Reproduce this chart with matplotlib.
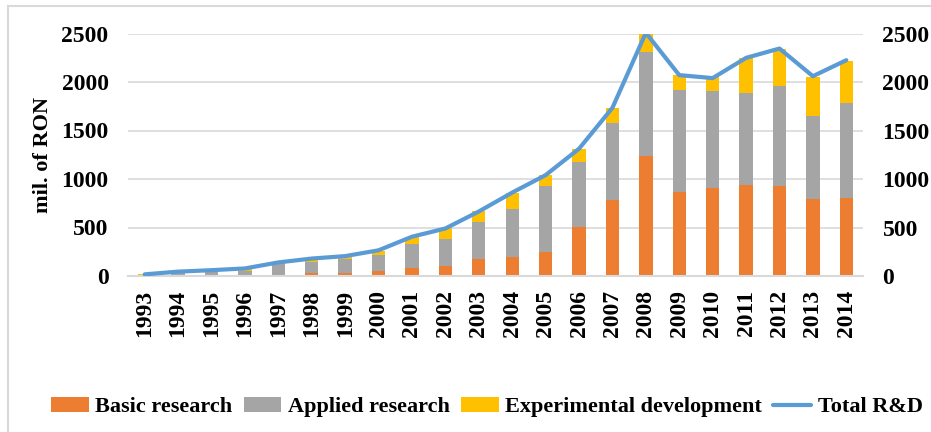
import numpy as np
import matplotlib
matplotlib.use("Agg")
from matplotlib import pyplot as plt
from matplotlib.lines import Line2D

# R&D expenditure, mil. of RON
years = [str(y) for y in range(1993, 2015)]
basic = [2, 3, 5, 10, 12, 35, 35, 48, 83, 104, 172, 196, 251, 505, 780, 1236, 869, 910, 937, 931, 790, 800]
applied = [8, 30, 45, 45, 112, 113, 141, 166, 248, 276, 381, 494, 680, 673, 796, 1072, 1047, 996, 948, 1023, 858, 986]
experimental = [8, 7, 8, 15, 11, 17, 24, 46, 69, 110, 117, 168, 106, 134, 158, 199, 155, 141, 364, 391, 399, 432]
total = [17, 45, 60, 78, 140, 180, 205, 265, 405, 490, 665, 860, 1040, 1312, 1734, 2507, 2071, 2040, 2249, 2345, 2060, 2225]
yticks = [0, 500, 1000, 1500, 2000, 2500]

plt.rcParams['font.family'] = ['Liberation Serif', 'DejaVu Serif']
plt.rcParams['font.weight'] = 'bold'

fig = plt.figure(figsize=(9.31, 4.32), dpi=100)
ax = fig.add_axes([128/931, 1 - 276/432, 735/931, 242.5/432])

x = np.arange(len(years))
basic = np.array(basic)
applied = np.array(applied)
experimental = np.array(experimental)

w = 0.4
ax.bar(x, basic, w, color='#ED7D31', label='Basic research', zorder=2)
ax.bar(x, applied, w, bottom=basic, color='#A5A5A5', label='Applied research', zorder=2)
ax.bar(x, experimental, w, bottom=basic + applied, color='#FFC000',
       label='Experimental development', zorder=2)
ax.plot(x, total, color='#5B9BD5', lw=3, label='Total R&D', zorder=3,
        solid_joinstyle='round', solid_capstyle='round')

ax.set_xlim(-0.5, len(years) - 0.5)
ax.set_ylim(0, 2500)
ax.set_yticks(yticks)
ax.yaxis.grid(True, color='#d9d9d9', lw=1.2, zorder=0)
ax.set_axisbelow(True)
ax.set_xticks(x)
ax.set_xticklabels(years, rotation=90, fontsize=17, fontweight='bold')
for s in ['top', 'right', 'left']:
    ax.spines[s].set_visible(False)
ax.spines['bottom'].set_color('#d9d9d9')
ax.spines['bottom'].set_linewidth(1.5)
ax.tick_params(axis='both', length=0, labelsize=17)
ax.tick_params(axis='y', pad=14)
ax.tick_params(axis='x', pad=10)
ax.set_ylabel('mil. of RON', fontsize=16, fontweight='bold', labelpad=6)

ax2 = ax.twinx()
ax2.set_ylim(0, 2500)
ax2.set_yticks(yticks)
ax2.tick_params(axis='y', length=0, labelsize=17, pad=14)
for s in ax2.spines.values():
    s.set_visible(False)
for lab in ax.get_yticklabels() + ax2.get_yticklabels():
    lab.set_fontweight('bold')

h, l = ax.get_legend_handles_labels()
order = [1, 2, 3, 0]
fig.legend([h[i] for i in order], [l[i] for i in order], loc='center',
           bbox_to_anchor=(0.523, 1 - 407/432), ncol=4, frameon=False,
           prop={'size': 16, 'weight': 'bold'}, handlelength=1.7,
           handletextpad=0.3, columnspacing=0.5)

# light frame round the figure
fig.add_artist(Line2D([8/931, 1], [1 - 6/432, 1 - 6/432], color='#d9d9d9', lw=1.5))
fig.add_artist(Line2D([8/931, 8/931], [0, 1 - 6/432], color='#d9d9d9', lw=1.5))

fig.savefig('out.png', dpi=100)
